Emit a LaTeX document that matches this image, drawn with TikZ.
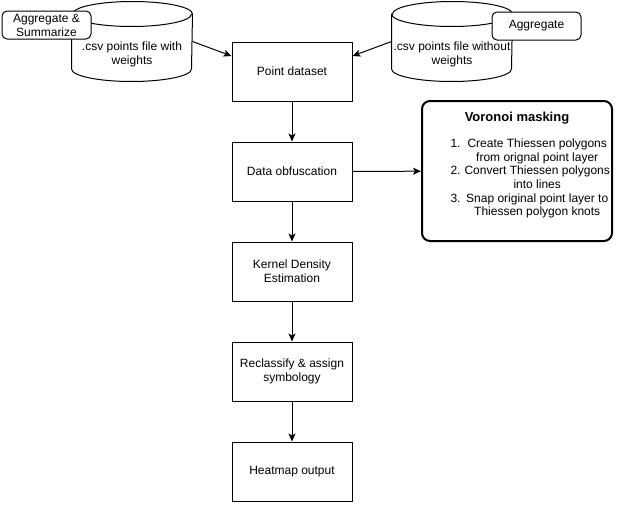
\documentclass[tikz,border=0pt]{standalone}
\usepackage{fontspec}
\setmainfont{Liberation Sans}
\usetikzlibrary{arrows.meta}

\begin{document}
\begin{tikzpicture}[x=1pt, y=1pt, line width=1pt, >={Stealth[length=8pt, width=7pt, inset=2pt]},
    step box/.style={rectangle, draw, minimum width=120, minimum height=59, align=center, font=\fontsize{12}{14}\selectfont},
    db node/.style={rectangle, minimum width=120, minimum height=79, inner sep=0},
    tag box/.style={rectangle, draw, fill=white, rounded corners=5pt, minimum width=89, minimum height=28, inner sep=1pt, align=center, font=\fontsize{12}{14}\selectfont},
    label text/.style={align=center, inner sep=0, font=\fontsize{12}{14}\selectfont}]

    \useasboundingbox (0,0) rectangle (625,-514);

    % Main flow
    \node[step box] (pd) at (292,-71.5) {Point dataset};
    \node[step box] (obf) at (292,-171.5) {Data obfuscation};
    \node[step box] (kde) at (292,-271.5) {Kernel Density\\Estimation};
    \node[step box] (recl) at (292,-371.5) {Reclassify \& assign\\symbology};
    \node[step box] (heat) at (292,-471.5) {Heatmap output};

    % Input databases
    \node[db node] (csvW) at (132,-41.5) {};
    \node[db node] (csvN) at (452,-41.5) {};
    \foreach \db in {csvW, csvN} {
        \draw[fill=white] ([yshift=-12.5]\db.north west) -- ([yshift=12.5]\db.south west)
            arc[start angle=180, end angle=360, x radius=60, y radius=12.5]
            -- ([yshift=-12.5]\db.north east)
            arc[start angle=0, end angle=180, x radius=60, y radius=12.5] -- cycle;
        \draw ([yshift=-12.5]\db.north west) arc[start angle=180, end angle=360, x radius=60, y radius=12.5];
    }
    \node[label text] (csvWtext) at ([yshift=-12.5]csvW.center) {.csv points file with\\weights};
    \node[label text] (csvNtext) at ([yshift=-12.5]csvN.center) {.csv points file without\\weights};

    \node[tag box] (aggS) at (46.5,-25) {Aggregate \&\\Summarize};
    \node[tag box] (agg) at (536.5,-26) {Aggregate};

    % Voronoi masking
    \node[rectangle, draw, line width=2pt, rounded corners=8pt, minimum width=190, minimum height=140] (vor) at (517,-171) {};
    \node[label text, font=\fontsize{13}{15}\selectfont\bfseries] (vortitle) at (517,-118) {Voronoi masking};
    \node[label text, anchor=west, font=\fontsize{12}{13.6}\selectfont] (vorlist) at (450,-179) {%
        \begin{tabular}{@{}l@{\hspace{4pt}}c@{}}
        1. & Create Thiessen polygons\\
           & from orignal point layer\\
        2. & Convert Thiessen polygons\\
           & into lines\\
        3. & Snap original point layer to\\
           & Thiessen polygon knots
        \end{tabular}};

    % Connectors
    \draw[->] (csvW.east) -- ([yshift=-14.5]pd.north west);
    \draw[->] (csvN.west) -- ([yshift=-14.5]pd.north east);
    \draw[->] (pd) -- (obf);
    \draw[->] (obf) -- (kde);
    \draw[->] (kde) -- (recl);
    \draw[->] (recl) -- (heat);
    \draw[->] (obf) -- (vor);

\end{tikzpicture}
\end{document}
